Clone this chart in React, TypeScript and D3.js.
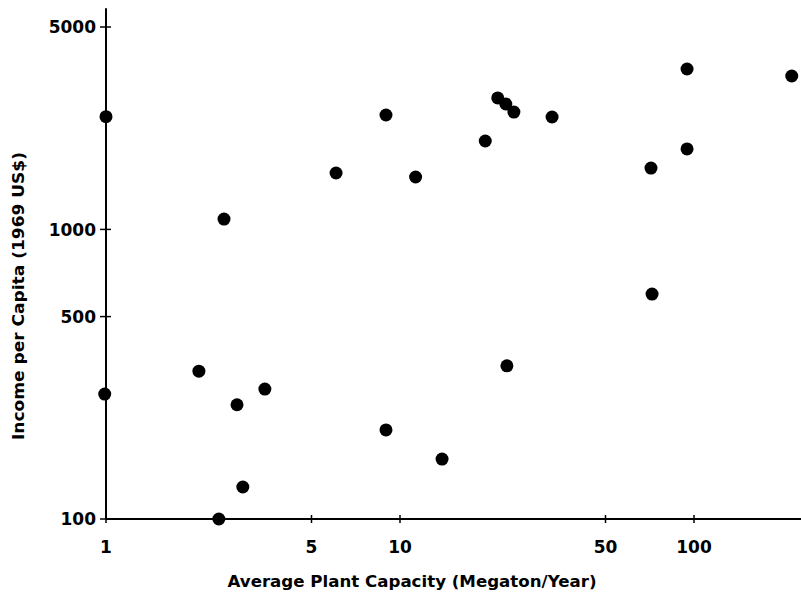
import { scaleLog } from "d3";

// plants: average capacity (Mt/yr) vs income per capita (1969 US$)
const capacity = [
  1.0, 0.99, 2.07, 2.52, 2.42, 2.79, 2.92, 3.47, 6.06, 8.96, 8.96, 11.3,
  13.9, 19.5, 21.5, 22.9, 24.4, 23.1, 32.9, 71.4, 72.0, 94.7, 94.7, 215,
];
const income = [
  2450, 270, 324, 1086, 100, 248, 129, 281, 1566, 2484, 203, 1517,
  161, 2020, 2844, 2711, 2543, 338, 2445, 1629, 598, 3581, 1896, 3386,
];

const xTicks = [1, 5, 10, 50, 100];
const yTicks = [100, 500, 1000, 5000];

const xTitle = "Average Plant Capacity (Megaton/Year)";
const yTitle = "Income per Capita (1969 US$)";

const width = 801;
const height = 597;
const font = "'DejaVu Sans', 'Liberation Sans', sans-serif";

export default function App() {
  const x = scaleLog().domain([1, 100]).range([106, 694]);
  const y = scaleLog().domain([100, 5000]).range([519, 27]);

  const x0 = x(1);
  const y0 = y(100);

  return (
    <svg
      width={width}
      height={height}
      style={{ position: "absolute", left: 0, top: 0, background: "#fff" }}
      fontFamily={font}
      fontWeight="bold"
    >
      {/* axes */}
      <line x1={x0} x2={x(240)} y1={y0} y2={y0} stroke="#000" strokeWidth={2} />
      <line x1={x0} x2={x0} y1={y0} y2={y(5800)} stroke="#000" strokeWidth={2} />

      {xTicks.map((t) => (
        <g key={`xt-${t}`} transform={`translate(${x(t)}, ${y0})`}>
          <line y1={-4} y2={4} stroke="#000" strokeWidth={1.5} />
          <text y={34} textAnchor="middle" fontSize={17}>
            {t}
          </text>
        </g>
      ))}

      {yTicks.map((t) => (
        <g key={`yt-${t}`} transform={`translate(${x0}, ${y(t)})`}>
          <line x1={-6} x2={5} stroke="#000" strokeWidth={1.5} />
          <text x={-10} dy="0.36em" textAnchor="end" fontSize={17}>
            {t}
          </text>
        </g>
      ))}

      {/* points */}
      {capacity.map((c, i) => (
        <circle key={`pt-${i}`} cx={x(c)} cy={y(income[i])} r={6.5} fill="#000" />
      ))}

      {/* titles */}
      <text
        x={412}
        y={587}
        textAnchor="middle"
        fontSize={15}
        textLength={369}
        lengthAdjust="spacingAndGlyphs"
      >
        {xTitle}
      </text>
      <text
        transform="translate(24, 296) rotate(-90)"
        textAnchor="middle"
        fontSize={15}
        textLength={288}
        lengthAdjust="spacingAndGlyphs"
      >
        {yTitle}
      </text>
    </svg>
  );
}
